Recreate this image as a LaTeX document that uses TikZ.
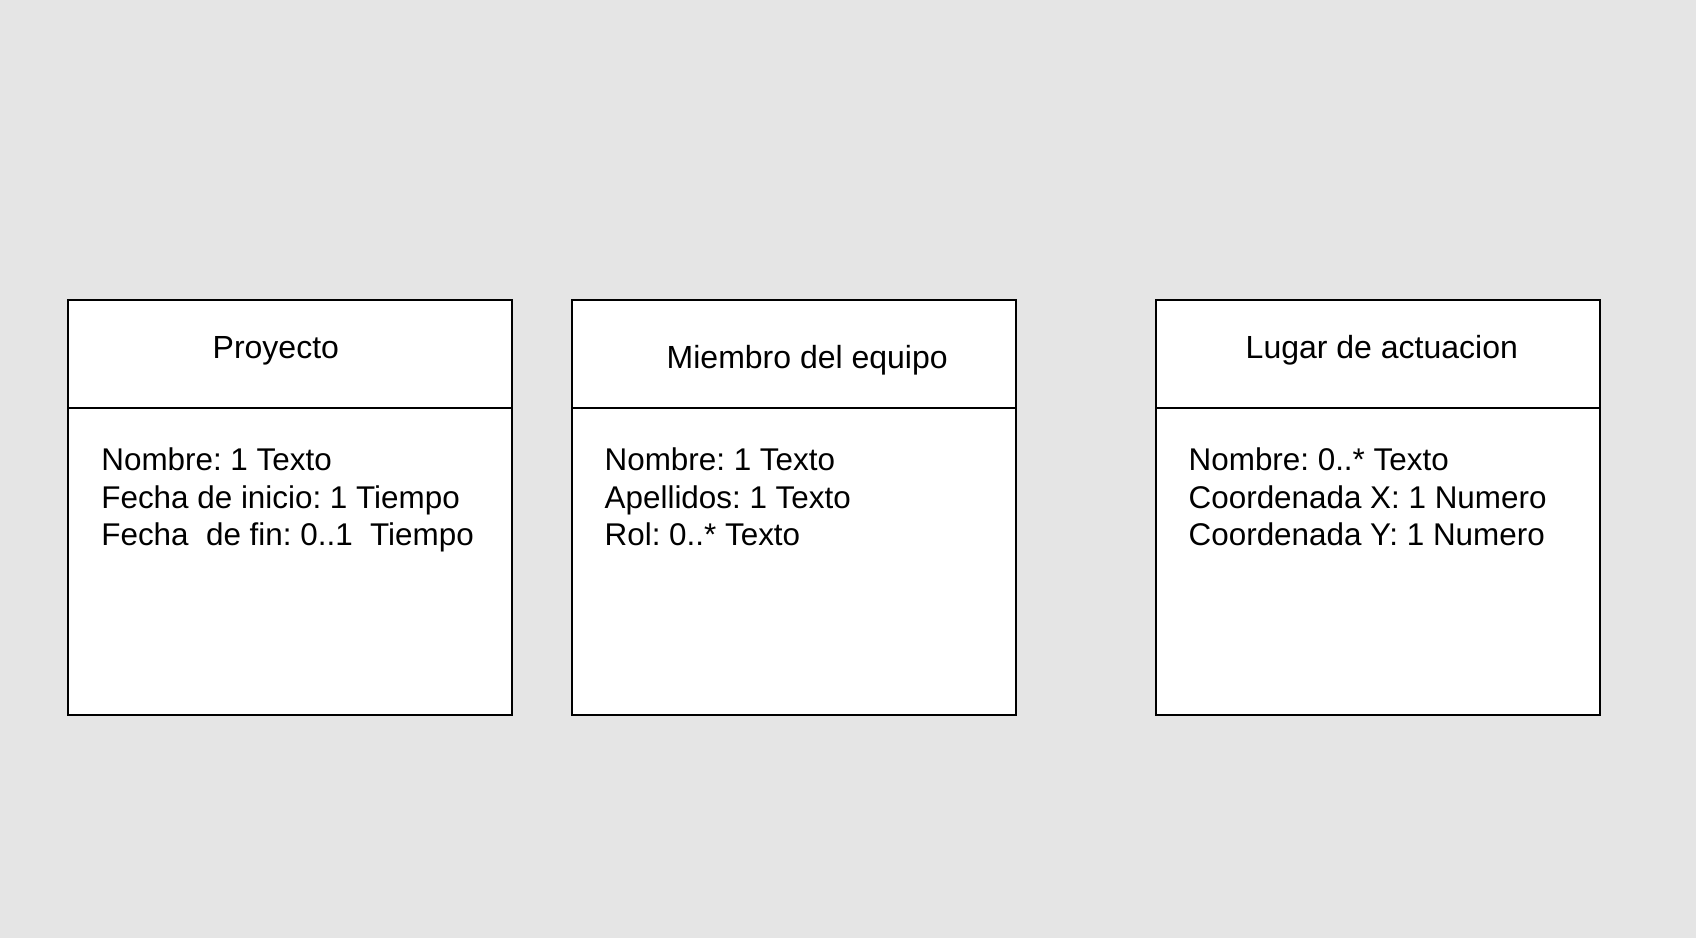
\documentclass[tikz,border=0pt]{standalone}
\usepackage{fontspec}
\setmainfont{Liberation Sans}
\frenchspacing
\begin{document}
\begin{tikzpicture}[x=1pt,y=-1pt,
  hdr/.style={draw=black, line width=2pt, fill=white, inner sep=0pt, anchor=north west, minimum width=443.6pt, minimum height=108.2pt},
  bdy/.style={draw=black, line width=2pt, fill=white, inner sep=0pt, anchor=north west, minimum width=443.6pt, minimum height=307.3pt},
  ttl/.style={anchor=base west, inner sep=0pt, font=\fontsize{32}{36}\selectfont},
  attr/.style={anchor=base west, inner sep=0pt, font=\fontsize{31.4}{36}\selectfont}]
\fill[fill={rgb,255:red,229;green,229;blue,229}] (0,0) rectangle (1696,938);
\useasboundingbox (0,0) rectangle (1696,938);
% Proyecto
\node[bdy] (pb) at (67,406.7) {};
\node[hdr] (ph) at (67,298.5) {};
\node[ttl] (pt) at (212.5,358.3) {Proyecto};
\node[attr] (p1) at (101.2,470.7) {Nombre: 1 Texto};
\node[attr] (p2) at (101.2,508.0) {Fecha de inicio: 1 Tiempo};
\node[attr] (p3) at (101.2,545.3) {Fecha\ \ de fin: 0..1\ \ Tiempo};
% Miembro del equipo
\node[bdy] (mb) at (571,406.7) {};
\node[hdr] (mh) at (571,298.5) {};
\node[ttl] (mt) at (666.5,368.3) {Miembro del equipo};
\node[attr] (m1) at (604.5,470.7) {Nombre: 1 Texto};
\node[attr] (m2) at (604.5,508.0) {Apellidos: 1 Texto};
\node[attr] (m3) at (604.5,545.3) {Rol: 0..* Texto};
% Lugar de actuacion
\node[bdy] (lb) at (1155,406.7) {};
\node[hdr] (lh) at (1155,298.5) {};
\node[ttl] (lt) at (1245.5,358.3) {Lugar de actuacion};
\node[attr] (l1) at (1188.5,470.7) {Nombre: 0..* Texto};
\node[attr] (l2) at (1188.5,508.0) {Coordenada X: 1 Numero};
\node[attr] (l3) at (1188.5,545.3) {Coordenada Y: 1 Numero};
\end{tikzpicture}
\end{document}
